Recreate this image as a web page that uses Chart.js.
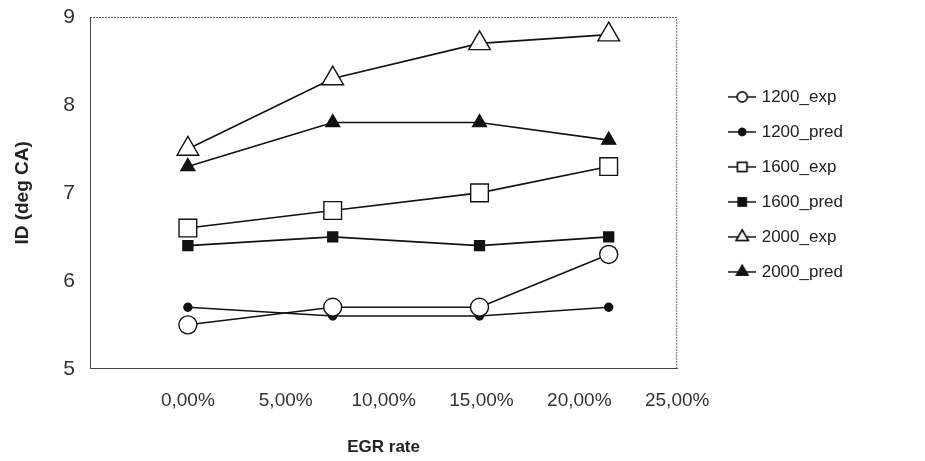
<!DOCTYPE html>
<html>
<head>
<meta charset="utf-8">
<script src="https://cdn.jsdelivr.net/npm/chart.js@4/dist/chart.umd.min.js"></script>
<style>
html,body{margin:0;padding:0;background:#fff;}
#wrap{width:925px;height:461px;position:relative;}
</style>
</head>
<body>
<div id="wrap"><canvas id="c" width="925" height="461"></canvas></div>
<script>
// EGR rate (fraction) at each measured point
const egrRate = [0, 0.074, 0.149, 0.215];
const seriesNames = ['1200_exp', '1200_pred', '1600_exp', '1600_pred', '2000_exp', '2000_pred'];
const id1200Exp  = [5.5, 5.7, 5.7, 6.3];
const id1200Pred = [5.7, 5.6, 5.6, 5.7];
const id1600Exp  = [6.6, 6.8, 7.0, 7.3];
const id1600Pred = [6.4, 6.5, 6.4, 6.5];
const id2000Exp  = [7.5, 8.3, 8.7, 8.8];
const id2000Pred = [7.3, 7.8, 7.8, 7.6];
const xTicks = [0, 0.05, 0.10, 0.15, 0.20, 0.25];
const yTicks = [5, 6, 7, 8, 9];

const seriesValues = [id1200Exp, id1200Pred, id1600Exp, id1600Pred, id2000Exp, id2000Pred];
const styles = [
  {ps:'circle',   r:9,   fill:'#ffffff', lr:5},
  {ps:'circle',   r:4,   fill:'#111111', lr:3.5},
  {ps:'rect',     r:12.5,fill:'#ffffff', lr:6.5},
  {ps:'rect',     r:7,   fill:'#111111', lr:5.5},
  {ps:'triangle', r:12.5,fill:'#ffffff', lr:7},
  {ps:'triangle', r:8,   fill:'#111111', lr:6.5}
];

function legendImage(st){
  const cv = document.createElement('canvas');
  cv.width = 28; cv.height = 20;
  const ctx = cv.getContext('2d');
  ctx.strokeStyle = '#111'; ctx.lineWidth = 1.5;
  ctx.beginPath(); ctx.moveTo(0,10); ctx.lineTo(28,10); ctx.stroke();
  Chart.helpers.drawPoint(ctx, {pointStyle: st.ps, radius: st.lr, borderWidth: 1.3, rotation: 0}, 14, 10);
  ctx.fillStyle = st.fill; ctx.fill(); ctx.stroke();
  return cv;
}

const datasets = seriesNames.map((name, i) => ({
  label: name,
  data: egrRate.map((x, j) => ({x: x, y: seriesValues[i][j]})),
  borderColor: '#111111',
  borderWidth: 1.6,
  pointStyle: styles[i].ps,
  pointRadius: styles[i].r,
  pointHoverRadius: styles[i].r,
  pointBackgroundColor: styles[i].fill,
  pointBorderColor: '#111111',
  pointBorderWidth: 1.4,
  showLine: true,
  fill: false,
  tension: 0
}));

const frame = {
  id: 'frame',
  beforeDatasetsDraw(chart){
    const a = chart.chartArea, ctx = chart.ctx;
    ctx.save();
    ctx.strokeStyle = '#666'; ctx.lineWidth = 1; ctx.setLineDash([2,1]);
    ctx.beginPath();
    ctx.moveTo(a.left, a.top + 0.5); ctx.lineTo(a.right - 0.5, a.top + 0.5); ctx.lineTo(a.right - 0.5, a.bottom);
    ctx.stroke();
    ctx.restore();
  }
};

new Chart(document.getElementById('c'), {
  type: 'scatter',
  data: {datasets},
  plugins: [frame],
  options: {
    responsive: false,
    animation: false,
    layout: {padding: {left: 0, right: 72, top: 17, bottom: 3}},
    plugins: {
      tooltip: {enabled: false},
      legend: {
        position: 'right',
        align: 'start',
        title: {display: true, text: ' ', font: {size: 12}, padding: {top: 39, bottom: 0}},
        labels: {
          usePointStyle: true,
          pointStyleWidth: 22,
          padding: 18,
          color: '#222',
          font: {family: 'Liberation Sans', size: 17},
          generateLabels: (chart) => chart.data.datasets.map((d, i) => ({
            text: d.label, pointStyle: legendImage(styles[i]), fontColor: '#222',
            datasetIndex: i, hidden: false, lineWidth: 0, strokeStyle: 'transparent', fillStyle: 'transparent'
          }))
        }
      }
    },
    scales: {
      x: {
        type: 'linear',
        min: -0.05, max: 0.25,
        afterBuildTicks: (s) => { s.ticks = [-0.05].concat(xTicks).map(v => ({value: v})); },
        grid: {display: false, drawTicks: false},
        border: {display: true, color: '#444', width: 1, dash: [3,1]},
        ticks: {
          padding: 21,
          color: '#333',
          font: {family: 'Liberation Sans', size: 19},
          maxRotation: 0,
          autoSkip: false,
          callback: (v) => v < -0.001 ? '' : (Math.round(v * 10000) / 100).toFixed(2).replace('.', ',') + '%'
        },
        title: {display: true, text: 'EGR rate', color: '#222', font: {family: 'Liberation Sans', size: 17, weight: 'bold'}, padding: {top: 4, bottom: 0}}
      },
      y: {
        min: 5, max: 9,
        afterBuildTicks: (s) => { s.ticks = yTicks.map(v => ({value: v})); },
        afterFit: (s) => { s.width = 90; s.paddingTop = 0; s.paddingBottom = 0; },
        grid: {display: false, drawTicks: false},
        border: {display: true, color: '#444', width: 1, dash: [3,1]},
        ticks: {padding: 15, color: '#333', font: {family: 'Liberation Sans', size: 21}},
        title: {display: true, text: 'ID (deg CA)', color: '#222', font: {family: 'Liberation Sans', size: 19, weight: 'bold'}, padding: {top: 11, bottom: 0}}
      },
      gap: {
        type: 'linear',
        position: 'right',
        display: true,
        afterFit: (s) => { s.width = 36; },
        grid: {display: false, drawTicks: false},
        border: {display: false},
        ticks: {display: false}
      }
    }
  }
});
</script>
</body>
</html>
